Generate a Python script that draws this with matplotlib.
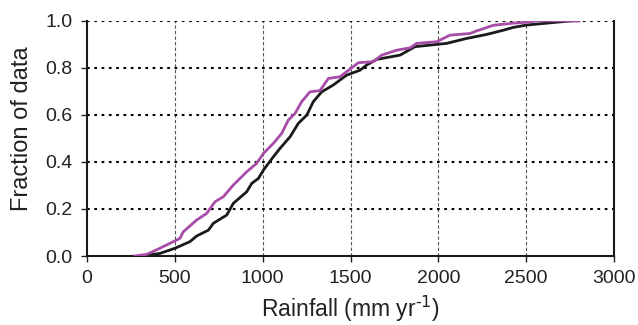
import matplotlib
matplotlib.use("Agg")
import matplotlib.pyplot as plt

plt.rcParams['font.family'] = ['Liberation Sans', 'DejaVu Sans']

# Purple series (rainfall mm/yr, cumulative fraction)
purple_x = [273, 340, 415, 472, 529, 548, 624, 681, 729, 776, 833, 909, 966, 1004,
            1061, 1108, 1146, 1184, 1222, 1269, 1326, 1374, 1440, 1545, 1630, 1677,
            1763, 1839, 1877, 1991, 2066, 2180, 2218, 2313, 2427, 2503, 2560, 2800]
purple_y = [0.0, 0.007, 0.033, 0.054, 0.075, 0.103, 0.153, 0.181, 0.231, 0.252, 0.302,
            0.358, 0.394, 0.436, 0.479, 0.521, 0.578, 0.606, 0.656, 0.698, 0.703, 0.755,
            0.762, 0.822, 0.826, 0.854, 0.875, 0.885, 0.904, 0.911, 0.939, 0.946, 0.957,
            0.981, 0.990, 0.994, 1.0, 1.0]

# Black series
black_x = [311, 415, 501, 586, 624, 691, 719, 795, 833, 909, 938, 976, 1004, 1061,
           1099, 1156, 1203, 1251, 1288, 1336, 1402, 1478, 1554, 1592, 1649, 1782,
           1867, 2047, 2161, 2275, 2370, 2427, 2503, 2617, 2731, 2770, 2800]
black_y = [0.0, 0.011, 0.033, 0.061, 0.085, 0.11, 0.139, 0.174, 0.224, 0.273, 0.309,
           0.33, 0.365, 0.422, 0.458, 0.507, 0.564, 0.599, 0.656, 0.698, 0.727, 0.769,
           0.79, 0.812, 0.836, 0.854, 0.89, 0.904, 0.925, 0.942, 0.96, 0.972, 0.982,
           0.99, 0.998, 1.0, 1.0]

x_ticks = [0, 500, 1000, 1500, 2000, 2500, 3000]
y_ticks = [0.0, 0.2, 0.4, 0.6, 0.8, 1.0]

fig = plt.figure(figsize=(6.38, 3.25), dpi=100)
ax = fig.add_axes([0.1364, 0.2123, 0.826, 0.7237])

ax.set_xlim(0, 3000)
ax.set_ylim(0, 1.0)
ax.set_xticks(x_ticks)
ax.set_yticks(y_ticks)
ax.set_xticklabels([str(v) for v in x_ticks])
ax.set_yticklabels([f"{v:.1f}" for v in y_ticks])

# grids
for xv in x_ticks[1:-1]:
    ax.axvline(xv, color='#555555', lw=0.8, ls=(0, (3, 2)), zorder=1)
for yv in y_ticks[1:]:
    ax.axhline(yv, color='black', lw=1.5, ls=(0, (1.3, 2.2)), zorder=1)

ax.plot(black_x, black_y, color='#1a1a1a', lw=2.0, zorder=3)
ax.plot(purple_x, purple_y, color='#a84ca8', lw=2.0, zorder=4)

for s in ['left', 'bottom', 'right']:
    ax.spines[s].set_linewidth(1.5)
    ax.spines[s].set_color('#1a1a1a')
ax.spines['top'].set_visible(False)

ax.tick_params(axis='both', labelsize=14, length=4.5, width=1, colors='#222222',
               direction='out')
ax.tick_params(axis='x', pad=5.5)
ax.tick_params(axis='y', pad=6)

ax.set_xlabel('Rainfall (mm yr$^{\\text{-1}}$)', fontsize=16.5, color='#222222')
ax.set_ylabel('Fraction of data', fontsize=17, color='#222222')
ax.xaxis.set_label_coords(0.5, -0.16)
ax.yaxis.set_label_coords(-0.103, 0.542)

fig.savefig('out.png', dpi=100)
